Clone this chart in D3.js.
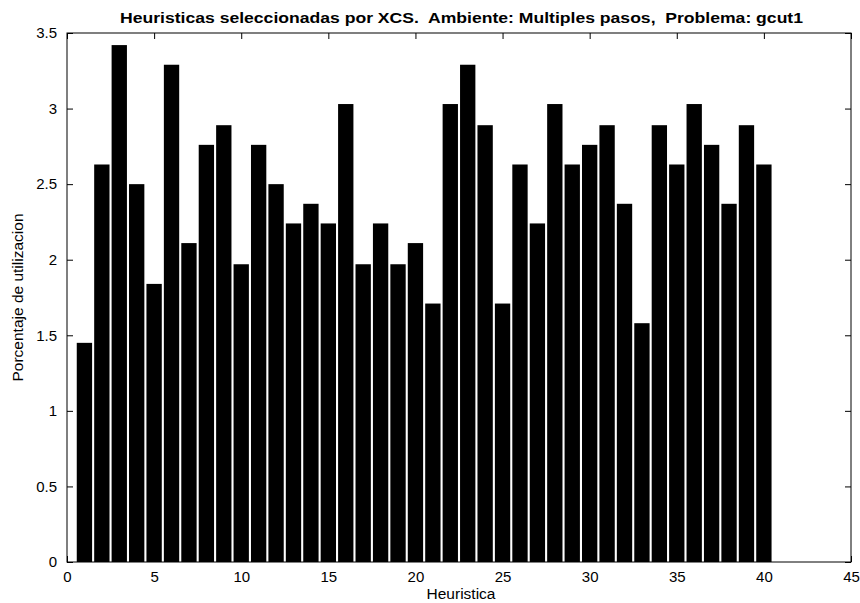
<!DOCTYPE html>
<html>
<head>
<meta charset="utf-8">
<script src="https://cdn.jsdelivr.net/npm/d3@7"></script>
<style>
  body { margin: 0; background: #fff; }
  text { font-family: "Liberation Sans", Arial, Helvetica, sans-serif; fill: #000; }
</style>
</head>
<body>
<script>
// heuristic index 1..40
const heuristics = d3.range(1, 41);
// porcentaje de utilizacion
const usage = [1.45, 2.63, 3.42, 2.50, 1.84, 3.29, 2.11, 2.76, 2.89, 1.97,
               2.76, 2.50, 2.24, 2.37, 2.24, 3.03, 1.97, 2.24, 1.97, 2.11,
               1.71, 3.03, 3.29, 2.89, 1.71, 2.63, 2.24, 3.03, 2.63, 2.76,
               2.89, 2.37, 1.58, 2.89, 2.63, 3.03, 2.76, 2.37, 2.89, 2.63];
const xTicks = [0, 5, 10, 15, 20, 25, 30, 35, 40, 45];
const yTicks = [0, 0.5, 1, 1.5, 2, 2.5, 3, 3.5];

const width = 860, height = 603;
const plotLeft = 67, plotRight = 851, plotTop = 33, plotBottom = 562;
const tickLen = 6;

const svg = d3.select('body').append('svg')
    .attr('width', width)
    .attr('height', height);

const x = d3.scaleLinear().domain([0, 45]).range([plotLeft, plotRight]);
const y = d3.scaleLinear().domain([0, 3.5]).range([plotBottom, plotTop]);

const barW = 0.88;

svg.append('g').selectAll('rect').data(heuristics).enter()
    .append('rect')
    .attr('x', d => x(d - barW / 2))
    .attr('width', x(barW) - x(0))
    .attr('y', (d, i) => y(usage[i]))
    .attr('height', (d, i) => y(0) - y(usage[i]))
    .attr('fill', '#000');

// box axes with inward ticks, matlab style
svg.append('rect')
    .attr('x', plotLeft).attr('y', plotTop)
    .attr('width', plotRight - plotLeft).attr('height', plotBottom - plotTop)
    .attr('fill', 'none').attr('stroke', '#000').attr('stroke-width', 1);

const bottomAxis = d3.axisBottom(x).tickValues(xTicks).tickSize(-tickLen).tickPadding(tickLen + 3).tickFormat(d3.format('d'));
const topAxis = d3.axisTop(x).tickValues(xTicks).tickSize(-tickLen).tickFormat('');
const leftAxis = d3.axisLeft(y).tickValues(yTicks).tickSize(-tickLen).tickPadding(tickLen + 4).tickFormat(d => d);
const rightAxis = d3.axisRight(y).tickValues(yTicks).tickSize(-tickLen).tickFormat('');

function styleAxis(g) {
    g.select('.domain').remove();
    g.selectAll('line').attr('stroke', '#000');
    g.selectAll('text').attr('font-size', 15).attr('font-family', '"Liberation Sans", Arial, sans-serif').attr('fill', '#000');
}

svg.append('g').attr('transform', `translate(0,${plotBottom})`).call(bottomAxis).call(styleAxis);
svg.append('g').attr('transform', `translate(0,${plotTop})`).call(topAxis).call(styleAxis);
svg.append('g').attr('transform', `translate(${plotLeft},0)`).call(leftAxis).call(styleAxis);
svg.append('g').attr('transform', `translate(${plotRight},0)`).call(rightAxis).call(styleAxis);

svg.append('text')
    .attr('x', 120)
    .attr('y', 23)
    .attr('font-size', 15)
    .attr('font-weight', 'bold')
    .attr('textLength', 683)
    .attr('lengthAdjust', 'spacingAndGlyphs')
    .style('white-space', 'pre')
    .text('Heuristicas seleccionadas por XCS.  Ambiente: Multiples pasos,  Problema: gcut1');

svg.append('text')
    .attr('x', (plotLeft + plotRight) / 2 + 2)
    .attr('y', 599)
    .attr('text-anchor', 'middle')
    .attr('font-size', 15.5)
    .text('Heuristica');

svg.append('text')
    .attr('transform', `translate(23,${(plotTop + plotBottom) / 2}) rotate(-90)`)
    .attr('text-anchor', 'middle')
    .attr('font-size', 15.5)
    .text('Porcentaje de utilizacion');
</script>
</body>
</html>
